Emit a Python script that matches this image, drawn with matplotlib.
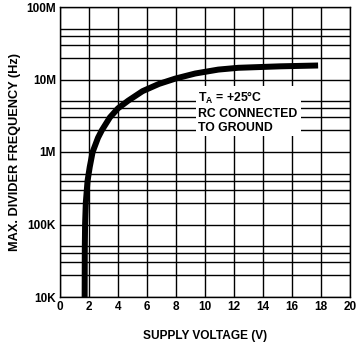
import matplotlib
matplotlib.use("Agg")
import matplotlib.pyplot as plt
from matplotlib.ticker import FixedLocator, NullFormatter

# Data
supply_v = [1.70, 1.71, 1.73, 1.78, 1.90, 2.05, 2.25, 2.62, 2.89, 3.44, 4.00, 4.70, 5.69, 6.83, 7.96, 9.33, 10.92, 12.29, 15.2, 17.8]
max_freq = [1e4, 4.5e4, 1e5, 2e5, 4e5, 0.62e6, 1e6, 1.57e6, 2e6, 3e6, 4e6, 5.1e6, 6.9e6, 8.7e6, 10.3e6, 12.1e6, 13.7e6, 14.5e6, 15.2e6, 15.6e6]

x_ticks = [0, 2, 4, 6, 8, 10, 12, 14, 16, 18, 20]
y_ticks = [1e4, 1e5, 1e6, 1e7, 1e8]
y_tick_labels = ["10K", "100K", "1M", "10M", "100M"]
minor_mult = [2, 3, 4, 5]

plt.rcParams['font.family'] = ['Liberation Sans', 'DejaVu Sans']
plt.rcParams['font.weight'] = 'bold'

fig = plt.figure(figsize=(3.62, 3.43), dpi=100)
ax = fig.add_axes([60/362, 1-297/343, 290/362, 290/343])

ax.set_yscale('log')
ax.set_xlim(0, 20)
ax.set_ylim(1e4, 1e8)

ax.set_xticks(x_ticks)
ax.set_xticklabels([str(t) for t in x_ticks], fontsize=8.5, fontweight='bold')
ax.set_yticks(y_ticks)
ax.set_yticklabels(y_tick_labels, fontsize=8.5, fontweight='bold')
minors = [m * 10**e for e in range(4, 8) for m in minor_mult]
ax.yaxis.set_minor_locator(FixedLocator(minors))
ax.yaxis.set_minor_formatter(NullFormatter())
ax.tick_params(which='both', length=0, pad=3)

ax.grid(True, which='major', color='black', linewidth=1.0)
ax.grid(True, which='minor', color='black', linewidth=1.0)
ax.set_axisbelow(True)
for s in ax.spines.values():
    s.set_color('black')
    s.set_linewidth(1.0)

ax.plot(supply_v, max_freq, color='black', linewidth=4.3, solid_capstyle='butt', solid_joinstyle='round', zorder=3)

ax.text(9.55, 3.6e6, "T$_\\mathregular{A}$ = +25°C\nRC CONNECTED\nTO GROUND",
        fontsize=8.8, fontweight='bold', va='center', ha='left', linespacing=1.2,
        bbox=dict(facecolor='white', edgecolor='none', pad=2), zorder=4)

ax.set_xlabel("SUPPLY VOLTAGE (V)", fontsize=8.6, fontweight='bold', labelpad=12)
ax.set_ylabel("MAX. DIVIDER FREQUENCY (Hz)", fontsize=9.2, fontweight='bold', labelpad=4)

fig.savefig("out.png", dpi=100)
